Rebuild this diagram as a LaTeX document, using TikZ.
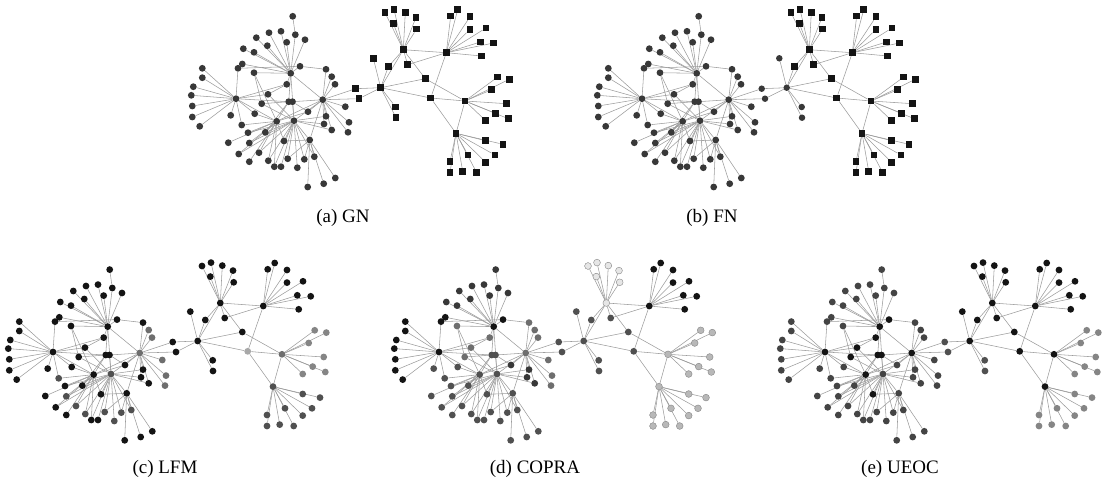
\documentclass[tikz,border=0pt]{standalone}
\usepackage{fontspec}
\setmainfont{Liberation Serif}
\usetikzlibrary{backgrounds}
\definecolor{cBlack}{HTML}{141414}
\definecolor{cDark}{HTML}{383838}
\definecolor{cDark2}{HTML}{444444}
\definecolor{cDG}{HTML}{505050}
\definecolor{cMid}{HTML}{6E6E6E}
\definecolor{cMid2}{HTML}{858585}
\definecolor{cLight}{HTML}{A8A8A8}
\definecolor{cLG}{HTML}{B8B8B8}
\definecolor{cVL}{HTML}{E6E6E6}
\definecolor{cEdge}{HTML}{9C9C9C}
\tikzset{
 ed/.style={draw=cEdge, line width=0.55pt},
 nd/.style={circle,inner sep=0pt,minimum size=6.8pt,draw=none},
 sq/.style={rectangle,minimum size=6.5pt},
 captxt/.style={font=\fontsize{19}{22}\selectfont, inner sep=0pt, anchor=base},
 % (a) GN
 a-def/.style={fill=cDark},
 a-R/.style={sq,fill=cBlack},
 % (b) FN
 b-def/.style={fill=cDark},
 b-R/.style={sq,fill=cBlack},
 b-gC/.style={circle,fill=cDark}, b-gCL/.style={circle,fill=cDark}, b-gS8/.style={circle,fill=cDark},
 % (c) LFM
 c-def/.style={fill=cBlack},
 c-gH4/.style={fill=cMid}, c-gH4La/.style={fill=cMid}, c-gH4Lb/.style={fill=cMid},
 c-gH6/.style={fill=cDG}, c-gLowB/.style={fill=cDG},
 c-gM2/.style={fill=cLight}, c-gD/.style={fill=cMid}, c-gDL/.style={fill=cMid2},
 c-gE/.style={fill=cDG}, c-gEL/.style={fill=cDG},
 % (d) COPRA
 d-def/.style={fill=cDG},
 d-gTop/.style={fill=cDark}, d-g11/.style={fill=cBlack}, d-gH1/.style={fill=cBlack},
 d-g13/.style={fill=cBlack}, d-gH2/.style={fill=cBlack}, d-gH2L/.style={fill=cBlack},
 d-g15/.style={fill=cMid}, d-g19/.style={fill=cMid}, d-gH4/.style={fill=cMid},
 d-gH4La/.style={fill=cMid}, d-g16/.style={fill=cMid}, d-gH4Lb/.style={fill=cMid},
 d-gH4Lc/.style={fill=cDark}, d-gCL/.style={fill=cDG},
 d-gA/.style={fill=cVL,draw=cMid2,line width=0.4pt}, d-gAL/.style={fill=cVL,draw=cMid2,line width=0.4pt},
 d-gB/.style={fill=cBlack}, d-gBL/.style={fill=cBlack},
 d-gD/.style={fill=cLG,draw=cMid2,line width=0.4pt}, d-gDL/.style={fill=cLG,draw=cMid2,line width=0.4pt},
 d-gE/.style={fill=cLG,draw=cMid2,line width=0.4pt}, d-gEL/.style={fill=cLG,draw=cMid2,line width=0.4pt},
 % (e) UEOC
 e-def/.style={fill=cDark2},
 e-gH1/.style={fill=cBlack}, e-gH2/.style={fill=cBlack}, e-gH3/.style={fill=cBlack},
 e-gH4/.style={fill=cBlack}, e-gH5/.style={fill=cBlack}, e-g13/.style={fill=cBlack},
 e-g19/.style={fill=cBlack}, e-g48/.style={fill=cBlack},
 e-R/.style={fill=cBlack}, e-gCL/.style={fill=cDG}, e-gDL/.style={fill=cMid2}, e-gEL/.style={fill=cMid2},
}
% left node / right node helpers: panel, group, name, position
\newcommand\LN[4]{\node[nd,#1-def,#1-#2/.try] (#1#3) at (#4) {};}
\newcommand\RN[4]{\node[nd,#1-def,#1-R/.try,#1-#2/.try] (#1#3) at (#4) {};}
\newcommand\drawgraph[3]{%
\begin{scope}[shift={(#2,#3)}]
\LN{#1}{gTop}{t1}{292.7,16.3}
\LN{#1}{gTop}{t2}{269,32.7}
\LN{#1}{gTop}{t3}{281,31.3}
\LN{#1}{gTop}{t4}{295.3,34.7}
\LN{#1}{gTop}{t5}{256.3,37.7}
\LN{#1}{gTop}{t6}{305,39.7}
\LN{#1}{gTop}{t7}{286.7,42.3}
\LN{#1}{gTop}{t8}{267.3,45.7}
\LN{#1}{gTop}{t9}{243.3,48.7}
\LN{#1}{gTop}{t10}{254,52.3}
\LN{#1}{g11}{n11}{242.3,64}
\LN{#1}{g11}{n12}{238,68.3}
\LN{#1}{g13}{n13}{300,66.3}
\LN{#1}{gH1}{H1}{290.7,73.3}
\LN{#1}{g15}{n15}{254,72.7}
\LN{#1}{g16}{n16}{326,69.3}
\LN{#1}{gH4La}{n17}{331.7,76.7}
\LN{#1}{gH4La}{n18}{335,84.3}
\LN{#1}{g19}{n19}{286.7,84.3}
\LN{#1}{gH2L}{n20}{202.3,68.3}
\LN{#1}{gH2L}{n21}{202.3,77.7}
\LN{#1}{gH2L}{n22}{193.3,86.7}
\LN{#1}{gH2L}{n23}{191.3,95.3}
\LN{#1}{gH2L}{n24}{192.3,106}
\LN{#1}{gH2L}{n25}{192.3,117}
\LN{#1}{gH2L}{n26}{199.7,126.3}
\LN{#1}{gH2}{H2}{236,98.7}
\LN{#1}{g19}{n28}{268,94.3}
\LN{#1}{g19}{n29}{261.7,103.7}
\LN{#1}{gH3}{H3a}{288.7,101.7}
\LN{#1}{gH3}{H3b}{292.5,101.7}
\LN{#1}{gH4}{H4}{322.7,99.7}
\LN{#1}{gH4Lb}{n32}{345.3,106.7}
\LN{#1}{gH4Lc}{n33}{308,111.7}
\LN{#1}{gH4Lc}{n34}{326,116.3}
\LN{#1}{gLowA}{n35}{230.7,115.3}
\LN{#1}{gLowA}{n36}{254.7,113.7}
\LN{#1}{gH5}{H5}{276.7,121.3}
\LN{#1}{gH6}{H6}{294,120.7}
\LN{#1}{gH4Lc}{n39}{324,124}
\LN{#1}{gH4Lc}{n40}{331.7,130}
\LN{#1}{gH4Lb}{n41}{349,122.3}
\LN{#1}{gH4Lb}{n42}{348,132.3}
\LN{#1}{gLowB}{n43}{241.7,125}
\LN{#1}{gLowA}{n44}{248,132.7}
\LN{#1}{gLowA}{n45}{265.3,132.3}
\LN{#1}{gLowA}{n46}{228.3,142.7}
\LN{#1}{gLowB}{n47}{249.3,143}
\LN{#1}{g48}{n48}{284,141}
\LN{#1}{gH7}{H7}{309.7,140}
\LN{#1}{gLowA}{n50}{238.7,154}
\LN{#1}{gLowB}{n51}{259,152.7}
\LN{#1}{gLowA}{n52}{249.3,161.7}
\LN{#1}{gLowB}{n53}{268.3,160.7}
\LN{#1}{gLowA}{n54}{274.3,166.7}
\LN{#1}{gLowA}{n55}{281,166.7}
\LN{#1}{gLowB}{n56}{287.7,158.7}
\LN{#1}{gLowB}{n57}{297.3,167.7}
\LN{#1}{gLowB}{n58}{304.3,159.3}
\LN{#1}{gLowB}{n59}{314.3,156.7}
\LN{#1}{gH7L}{n60}{307.7,187}
\LN{#1}{gH7L}{n61}{323.7,183.7}
\LN{#1}{gH7L}{n62}{335.3,178}
\RN{#1}{gAL}{s1}{385,12.7}
\RN{#1}{gAL}{s2}{394,9.3}
\RN{#1}{gAL}{s3}{405.3,12.3}
\RN{#1}{gAL}{s4}{416,17.3}
\RN{#1}{gAL}{s5}{393.3,23.3}
\RN{#1}{gAL}{s6}{416.7,29}
\RN{#1}{gA}{A}{403.3,49.7}
\RN{#1}{gS8}{s8}{373.3,58.3}
\RN{#1}{gCL2}{s9}{388.3,66.7}
\RN{#1}{gCL2}{s10}{407.7,64.7}
\RN{#1}{gB}{B}{446.3,52.7}
\RN{#1}{gBL}{s12}{450.7,16}
\RN{#1}{gBL}{s13}{457.7,9.7}
\RN{#1}{gBL}{s14}{470,16.7}
\RN{#1}{gBL}{s15}{470,29.3}
\RN{#1}{gBL}{s16}{486,28}
\RN{#1}{gBL}{s17}{480.3,42}
\RN{#1}{gBL}{s18}{493.7,43}
\RN{#1}{gBL}{s19}{481.7,56}
\RN{#1}{gM1}{M1}{425.3,78.7}
\RN{#1}{gC}{C}{380.7,87.7}
\RN{#1}{gCL}{s22}{355.7,88.7}
\RN{#1}{gCL}{s23}{359,98.7}
\RN{#1}{gCL}{s24}{395.7,107}
\RN{#1}{gCL}{s25}{396,117.7}
\RN{#1}{gM2}{M2}{430.7,98}
\RN{#1}{gD}{D}{465,101}
\RN{#1}{gDL}{s28}{497.7,77}
\RN{#1}{gDL}{s29}{509.3,79.3}
\RN{#1}{gDL}{s30}{491.7,89.7}
\RN{#1}{gDL}{s31}{506.7,103.7}
\RN{#1}{gDL}{s32}{495.7,113.3}
\RN{#1}{gDL}{s33}{508.3,118.7}
\RN{#1}{gDL}{s34}{485.7,120.7}
\RN{#1}{gE}{E}{456,133.3}
\RN{#1}{gEL}{s36}{485.7,140.7}
\RN{#1}{gEL}{s37}{503,144.3}
\RN{#1}{gEL}{s38}{495,155}
\RN{#1}{gEL}{s39}{468,155}
\RN{#1}{gEL}{s40}{485.7,162.3}
\RN{#1}{gEL}{s41}{450,161.7}
\RN{#1}{gEL}{s42}{450,172.7}
\RN{#1}{gEL}{s43}{462.7,171.3}
\RN{#1}{gEL}{s44}{476.7,172.7}
\begin{pgfonlayer}{background}
\foreach \u/\v in {t1/t4,t2/H1,t3/H1,t4/H1,t5/H1,t6/H1,t7/H1,t8/H1,t9/H1,t10/H1,
 n11/H1,n12/n13,n13/H1,n13/n16,n15/H1,n15/H5,n16/H4,n17/H4,n18/H4,n19/H1,n19/H2,
 H1/H3a,H1/H4,H1/H6,n12/H2,
 n20/H2,n21/H2,n22/H2,n23/H2,n24/H2,n25/H2,n26/H2,n35/H2,
 H2/H3a,H2/n28,H2/H5,H2/n36,H2/n43,
 n28/n19,n28/H6,n29/H3a,n29/H6,n15/n29,
 H3a/H3b,H3a/H5,H3b/H6,H3b/H4,H3b/n33,H3a/n45,
 H4/n32,H4/n33,H4/n34,H4/n39,H4/n40,H4/n41,H4/n42,H4/H6,H4/H7,H4/H5,
 H5/n36,H5/n43,H5/n44,H5/n45,H5/n46,H5/n47,H5/n50,H5/n51,H5/n52,H5/n53,H5/n48,H5/n54,H5/n33,
 H6/n45,H6/n48,H6/n53,H6/n54,H6/n55,H6/n56,H6/n57,H6/n58,H6/n59,H6/n39,H6/n34,H6/H7,H6/n47,
 H6/n50,H6/n51,H6/n44,H6/n40,
 H7/n60,H7/n61,H7/n62,H7/n58,H7/n59,H7/n48,H7/n56,
 H4/s22,H4/s23,s22/C,s23/C,
 C/s8,C/s9,C/s24,C/s25,C/A,C/M1,C/M2,
 A/s1,A/s2,A/s3,A/s4,A/s5,A/s6,A/s9,A/s10,A/B,A/M1,
 B/s10,B/s12,B/s13,B/s14,B/s15,B/s16,B/s17,B/s18,B/s19,B/M2,
 M1/D,M2/D,M2/E,D/E,
 D/s28,D/s29,D/s30,D/s31,D/s32,D/s33,D/s34,
 E/s36,E/s37,E/s38,E/s39,E/s40,E/s41,E/s42,E/s43,E/s44}
 \draw[ed] (#1\u) -- (#1\v);
\end{pgfonlayer}
\end{scope}}
\begin{document}
\begin{tikzpicture}[x=1pt,y=-1pt]
\useasboundingbox (0,0) rectangle (1110,490);
\drawgraph{a}{0}{0}
\drawgraph{b}{406}{0}
\drawgraph{c}{-183}{253.3}
\drawgraph{d}{203}{253.3}
\drawgraph{e}{589}{253.3}
\node[captxt] (capa) at (343,222) {(a) GN};
\node[captxt] (capb) at (712,222) {(b) FN};
\node[captxt] (capc) at (165,473) {(c) LFM};
\node[captxt] (capd) at (535,473) {(d) COPRA};
\node[captxt] (cape) at (900,473) {(e) UEOC};
\end{tikzpicture}
\end{document}
